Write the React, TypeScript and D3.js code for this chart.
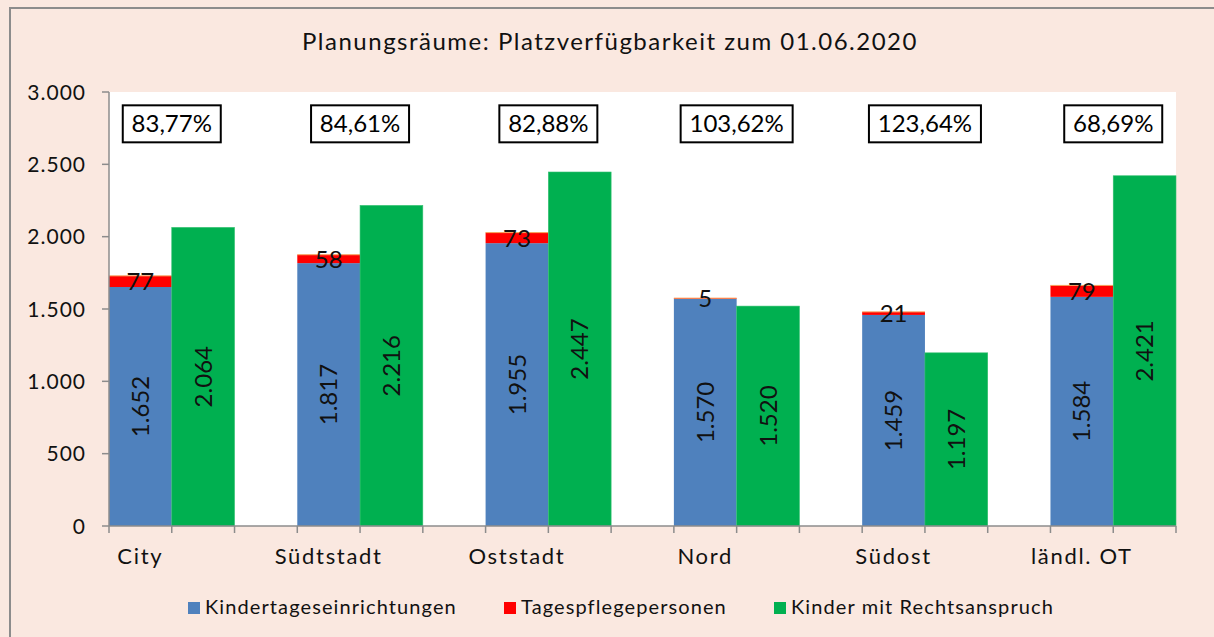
import React from "react";
import * as d3 from "d3";

const categories = ["City", "Südtstadt", "Oststadt", "Nord", "Südost", "ländl. OT"];
const kita = [1652, 1817, 1955, 1570, 1459, 1584];
const tagespflege = [77, 58, 73, 5, 21, 79];
const rechtsanspruch = [2064, 2216, 2447, 1520, 1197, 2421];
const quoten = ["83,77%", "84,61%", "82,88%", "103,62%", "123,64%", "68,69%"];
const yTicks = [0, 500, 1000, 1500, 2000, 2500, 3000];
const legendItems = [
  { label: "Kindertageseinrichtungen", color: "#4F81BD" },
  { label: "Tagespflegepersonen", color: "#FF0000" },
  { label: "Kinder mit Rechtsanspruch", color: "#00B050" },
];
const title = "Planungsräume: Platzverfügbarkeit zum 01.06.2020";

const W = 1214;
const H = 637;
const plot = { left: 109, right: 1176, top: 92, bottom: 526 };
const FONT = "Lato, 'Open Sans', sans-serif";

const locale = d3.formatLocale({ decimal: ",", thousands: ".", grouping: [3], currency: ["", "€"] });
const fmt = locale.format(",d");

export default function App() {
  const nSlots = categories.length * 3 - 1;
  const x = d3
    .scaleBand<number>()
    .domain(d3.range(nSlots))
    .range([plot.left, plot.right])
    .padding(0);
  const y = d3.scaleLinear().domain([0, 3000]).range([plot.bottom, plot.top]);
  const bw = x.bandwidth();

  const boundaries = d3.range(nSlots + 1).map((i) => plot.left + i * bw);

  const legendX = [188, 504, 774];

  return (
    <svg
      width={W}
      height={H}
      style={{ position: "absolute", left: 0, top: 0, fontFamily: FONT }}
    >
      <rect x={0} y={0} width={W} height={H} fill="#FAE8E0" />
      <rect x={10} y={8} width={W + 20} height={H + 20} fill="none" stroke="#8C8C8C" strokeWidth={2} />
      <text x={610} y={50} textAnchor="middle" fontSize={24} letterSpacing={1.5} fill="#111">
        {title}
      </text>

      <rect
        x={plot.left}
        y={plot.top}
        width={plot.right - plot.left}
        height={plot.bottom - plot.top}
        fill="#FFFFFF"
      />

      {/* bars */}
      {categories.map((c, i) => {
        const xb = x(3 * i)!;
        const xg = x(3 * i + 1)!;
        const yk = y(kita[i]);
        const yt = y(kita[i] + tagespflege[i]);
        const yr = y(rechtsanspruch[i]);
        return (
          <g key={c}>
            <rect x={xb} y={yk} width={bw} height={plot.bottom - yk} fill="#4F81BD" />
            <rect x={xb} y={yt} width={bw} height={yk - yt} fill="#FF0000" />
            <line x1={xb} x2={xb + bw} y1={yt} y2={yt} stroke="#F7A35C" strokeWidth={1} />
            <rect x={xg} y={yr} width={bw} height={plot.bottom - yr} fill="#00B050" stroke="#33C070" strokeWidth={0.6} />
          </g>
        );
      })}

      {/* value labels */}
      {categories.map((c, i) => {
        const cxb = x(3 * i)! + bw / 2;
        const cxg = x(3 * i + 1)! + bw / 2;
        const mb = (plot.bottom + y(kita[i])) / 2;
        const mg = (plot.bottom + y(rechtsanspruch[i])) / 2;
        const mt = (y(kita[i]) + y(kita[i] + tagespflege[i])) / 2;
        return (
          <g key={"l" + c} fontSize={24} fill="#111">
            <text
              transform={`translate(${cxb},${mb}) rotate(-90)`}
              textAnchor="middle"
              dy="0.36em"
            >
              {fmt(kita[i])}
            </text>
            <text
              transform={`translate(${cxg},${mg}) rotate(-90)`}
              textAnchor="middle"
              dy="0.36em"
            >
              {fmt(rechtsanspruch[i])}
            </text>
            <text x={cxb} y={mt} textAnchor="middle" dy="0.36em">
              {fmt(tagespflege[i])}
            </text>
          </g>
        );
      })}

      {/* percentage boxes */}
      {categories.map((c, i) => {
        const cx = x(3 * i + 1)!;
        const cy = y(2780);
        const w = quoten[i].length * 14 + 14;
        const h = 37;
        return (
          <g key={"q" + c}>
            <rect x={cx - w / 2} y={cy - h / 2} width={w} height={h} fill="#fff" stroke="#000" strokeWidth={2} />
            <text x={cx} y={cy} textAnchor="middle" dy="0.36em" fontSize={24} fill="#000">
              {quoten[i]}
            </text>
          </g>
        );
      })}

      {/* y axis */}
      <line x1={plot.left} x2={plot.left} y1={plot.top} y2={plot.bottom} stroke="#8C8C8C" strokeWidth={1.5} />
      {yTicks.map((t) => (
        <g key={"y" + t}>
          <line x1={plot.left - 7} x2={plot.left} y1={y(t)} y2={y(t)} stroke="#8C8C8C" strokeWidth={1.5} />
          <text x={86} y={y(t)} dy="0.36em" textAnchor="end" fontSize={21} letterSpacing={1} fill="#111">
            {fmt(t)}
          </text>
        </g>
      ))}

      {/* x axis */}
      <line x1={plot.left} x2={plot.right} y1={plot.bottom} y2={plot.bottom} stroke="#8C8C8C" strokeWidth={1.5} />
      {boundaries.map((b, i) => (
        <line key={"xt" + i} x1={b} x2={b} y1={plot.bottom} y2={plot.bottom + 7} stroke="#8C8C8C" strokeWidth={1.5} />
      ))}
      {categories.map((c, i) => (
        <text key={"xc" + c} x={x(3 * i)! + bw / 2} y={564} textAnchor="middle" fontSize={22} letterSpacing={1.7} fill="#111">
          {c}
        </text>
      ))}

      {/* legend */}
      {legendItems.map((l, i) => (
        <g key={"lg" + l.label}>
          <rect x={legendX[i]} y={602} width={12} height={12} fill={l.color} />
          <text x={legendX[i] + 17} y={614} fontSize={20} letterSpacing={1.1} fill="#111">
            {l.label}
          </text>
        </g>
      ))}
    </svg>
  );
}
